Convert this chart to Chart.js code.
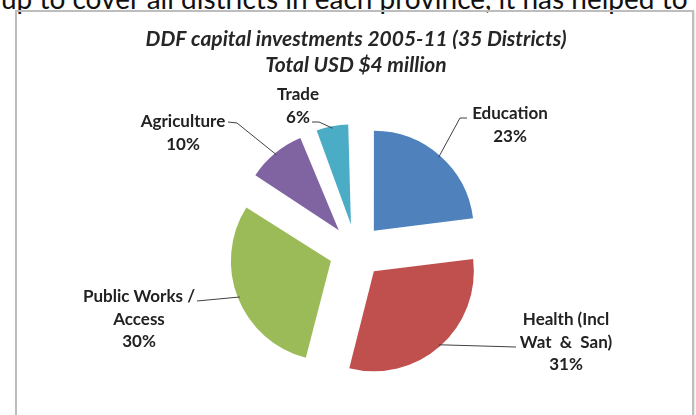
<!DOCTYPE html>
<html>
<head>
<meta charset="utf-8">
<script src="https://cdn.jsdelivr.net/npm/chart.js@4"></script>
<style>
  html, body { margin: 0; padding: 0; background: #fff; }
  body { width: 696px; height: 415px; overflow: hidden; position: relative; }
  #lead { position: absolute; left: 1px; top: -16px; font: 28px Lato, sans-serif; line-height: 28px; white-space: nowrap; color: #111; }
  #frame { position: absolute; left: 15px; top: 10px; width: 675px; height: 420px; border: 2px solid #bdbdbd; box-shadow: 1px 1px 2px rgba(0,0,0,0.12); }
  #pie { position: absolute; left: 0; top: 0; }
</style>
</head>
<body>
<div id="lead">up to cover all districts in each province, it has helped to</div>
<div id="frame"></div>
<canvas id="pie" width="696" height="415"></canvas>
<script>
const categories = ['Education', 'Health (Incl\nWat  &  San)', 'Public Works /\nAccess', 'Agriculture', 'Trade'];
const shares = [23, 31, 30, 10, 6];
const titleLines = ['DDF capital investments 2005-11 (35 Districts)', 'Total USD $4 million'];

const sliceColors = ['#4F81BD', '#C0504D', '#9BBB59', '#8064A2', '#4BACC6'];
const pieRadius = 100;
const pull = 27; // how far each slice is pulled out

// where each label's first line sits and how its leader bends
const labelSpots = [
  { x: 510, y: 114, bend: [[460, 118], [467, 118]] },
  { x: 566, y: 320, bend: [[516, 347]] },
  { x: 139, y: 297, bend: [[197, 301]] },
  { x: 183, y: 122, bend: [[237, 123], [228, 122]] },
  { x: 298, y: 95, bend: [[319, 122], [312, 122]] }
];

// v4 grows small slices by offset*(1-sin(sweep)); undo that so all slices share one radius
const evenRadius = {
  id: 'evenRadius',
  beforeDatasetsDraw(chart) {
    chart.getDatasetMeta(0).data.forEach(arc => {
      const sweep = arc.endAngle - arc.startAngle;
      const fix = 1 - Math.sin(Math.min(Math.PI, sweep));
      arc.outerRadius = pieRadius - (arc.options.offset / 4) * fix;
    });
  }
};

const sliceLabels = {
  id: 'sliceLabels',
  afterDatasetsDraw(chart) {
    const ctx = chart.ctx;
    const total = shares.reduce((a, b) => a + b, 0);
    ctx.save();
    ctx.font = 'bold 17px Lato';
    ctx.fillStyle = '#222';
    ctx.strokeStyle = '#404040';
    ctx.lineWidth = 1;
    ctx.textAlign = 'center';
    ctx.textBaseline = 'middle';
    chart.getDatasetMeta(0).data.forEach((arc, i) => {
      const mid = (arc.startAngle + arc.endAngle) / 2;
      const reach = arc.options.offset / 4 + pieRadius - 2;
      const spot = labelSpots[i];
      ctx.beginPath();
      ctx.moveTo(arc.x + Math.cos(mid) * reach, arc.y + Math.sin(mid) * reach);
      spot.bend.forEach(p => ctx.lineTo(p[0], p[1]));
      ctx.stroke();
      const lines = categories[i].split('\n').concat(Math.round(shares[i] / total * 100) + '%');
      lines.forEach((t, k) => ctx.fillText(t, spot.x, spot.y + k * 22.5));
    });
    ctx.restore();
  }
};

new Chart(document.getElementById('pie'), {
  type: 'pie',
  data: {
    labels: categories,
    datasets: [{
      data: shares,
      backgroundColor: sliceColors,
      borderWidth: 0,
      offset: pull * 4
    }]
  },
  options: {
    responsive: false,
    animation: false,
    radius: pieRadius,
    layout: { padding: { left: 16 } },
    plugins: {
      legend: { display: false },
      tooltip: { enabled: false },
      title: {
        display: true,
        text: titleLines,
        color: '#262626',
        font: { family: 'Lato', size: 21, style: 'italic', weight: 'bold', lineHeight: 1.2 },
        padding: { top: 27, bottom: 9.6 }
      }
    }
  },
  plugins: [evenRadius, sliceLabels]
});
</script>
</body>
</html>
